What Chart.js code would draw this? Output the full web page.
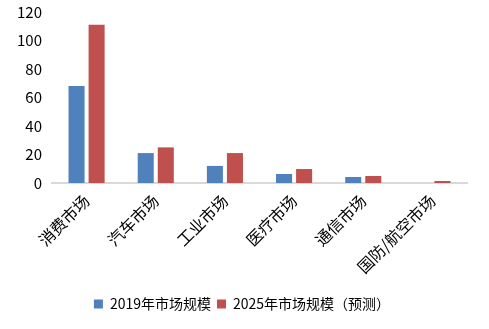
<!DOCTYPE html>
<html>
<head>
<meta charset="utf-8">
<script src="https://cdn.jsdelivr.net/npm/chart.js@4/dist/chart.umd.min.js"></script>
<style>
  html, body { margin: 0; padding: 0; background: #fff; }
  .chart-container { position: relative; width: 489px; height: 329px; }
</style>
</head>
<body>
<div class="chart-container"><canvas id="marketChart"></canvas></div>
<script>
const categories = ['消费市场', '汽车市场', '工业市场', '医疗市场', '通信市场', '国防/航空市场'];
const seriesNames = ['2019年市场规模', '2025年市场规模（预测）'];
const values2019 = [68, 21, 12, 6.3, 4.2, 0];
const values2025 = [111, 25, 21, 9.8, 4.9, 1.4];
const yTicks = [0, 20, 40, 60, 80, 100, 120];

const FONT = '"Noto Sans CJK SC", "Noto Sans", sans-serif';

const ctx = document.getElementById('marketChart').getContext('2d');

new Chart(ctx, {
  type: 'bar',
  data: {
    labels: categories,
    datasets: [
      {
        label: seriesNames[0],
        data: values2019,
        backgroundColor: '#4f81bd',
        categoryPercentage: 0.58,
        barPercentage: 0.8,
      },
      {
        label: seriesNames[1],
        data: values2025,
        backgroundColor: '#c0504d',
        categoryPercentage: 0.58,
        barPercentage: 0.8,
      },
    ],
  },
  options: {
    responsive: true,
    maintainAspectRatio: false,
    animation: false,
    layout: {
      padding: { top: 12, right: 22, left: 17, bottom: 8 },
    },
    plugins: {
      legend: {
        position: 'bottom',
        labels: {
          boxWidth: 9,
          boxHeight: 9,
          padding: 6,
          color: '#000',
          font: { family: FONT, size: 14 },
        },
      },
      tooltip: { enabled: false },
    },
    scales: {
      x: {
        grid: { display: false, drawTicks: false },
        border: { display: true, color: '#d9d9d9', width: 2 },
        afterFit(axis) {
          axis.height = 108;
          axis.paddingLeft = 0;
          axis.paddingRight = 0;
        },
        ticks: {
          minRotation: 45,
          maxRotation: 45,
          color: '#000',
          padding: 8,
          font: { family: FONT, size: 16 },
        },
      },
      y: {
        min: 0,
        max: 120,
        afterBuildTicks(axis) {
          axis.ticks = yTicks.map((v) => ({ value: v }));
        },
        afterFit(axis) {
          axis.width = 35;
          axis.paddingTop = 0;
          axis.paddingBottom = 0;
        },
        grid: { display: false, drawTicks: false },
        border: { display: false },
        ticks: {
          color: '#000',
          padding: 10,
          font: { family: FONT, size: 15 },
        },
      },
    },
  },
});
</script>
</body>
</html>
